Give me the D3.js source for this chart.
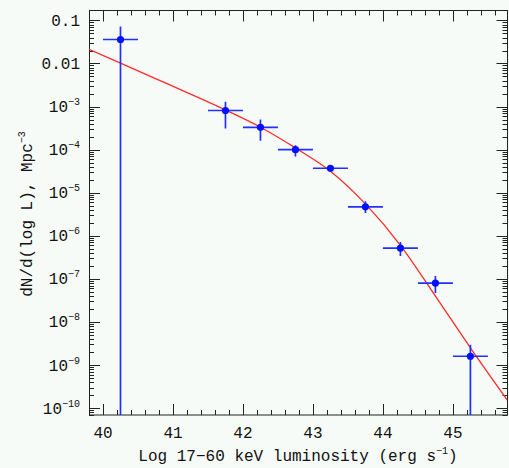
<!DOCTYPE html>
<html>
<head>
<meta charset="utf-8">
<script src="https://cdn.jsdelivr.net/npm/d3@7"></script>
<style>
  html, body { margin: 0; padding: 0; background: #f7fbf7; }
  svg { display: block; }
  text { font-family: "Liberation Mono", "DejaVu Sans Mono", monospace; fill: #111; }
</style>
</head>
<body>
<svg id="chart" width="509" height="468"></svg>
<script>
// ---- data ----
const logL   = [40.25, 41.75, 42.25, 42.75, 43.25, 43.75, 44.25, 44.75, 45.25];
const phi    = [0.036, 8.1e-4, 3.3e-4, 1.0e-4, 3.7e-5, 4.7e-6, 5.2e-7, 8.0e-8, 1.6e-9];
const phiHi  = [0.072, 1.3e-3, 5.0e-4, 1.26e-4, 4.2e-5, 6.3e-6, 7.2e-7, 1.17e-7, 2.95e-9];
const phiLo  = [1e-12, 3.1e-4, 1.6e-4, 6.9e-5, 3.3e-5, 3.4e-6, 3.4e-7, 4.7e-8, 1e-12];
const binHalf = [0.25, 0.25, 0.25, 0.25, 0.25, 0.25, 0.25, 0.25, 0.25];

// model curve (log L, log phi)
const curveLogL   = [39.8, 40.25, 40.75, 41.25, 41.75, 42.25, 42.75, 43.25, 43.75, 44.25, 44.75, 45.25, 45.78];
const curveLogPhi = [-1.67, -1.99, -2.35, -2.71, -3.08, -3.48, -3.96, -4.50, -5.26, -6.22, -7.40, -8.60, -9.82];

const xTicks = [40, 41, 42, 43, 44, 45];
const yTickExps = [-1, -2, -3, -4, -5, -6, -7, -8, -9, -10];

// ---- layout ----
const svg = d3.select("#chart");
const L = 89, R = 507.5, T = 10.5, B = 415;

const x = d3.scaleLinear().domain([39.8, 45.78]).range([L, R]);
const y = d3.scaleLog().domain([Math.pow(10, -10.16), Math.pow(10, -0.77)]).range([B, T]);

svg.append("defs").append("clipPath").attr("id", "clip")
  .append("rect").attr("x", L).attr("y", T).attr("width", R - L).attr("height", B - T);

// ---- ticks (inward, all four sides) ----
const tg = svg.append("g").attr("stroke", "#222").attr("stroke-width", 1);
const xMinor = d3.range(39.8, 45.79, 0.2).map(v => +v.toFixed(1));
xMinor.forEach(v => {
  const isMajor = Math.abs(v - Math.round(v)) < 1e-6;
  const len = isMajor ? 11 : 5;
  const px = Math.round(x(v)) + 0.5;
  tg.append("line").attr("x1", px).attr("x2", px).attr("y1", B).attr("y2", B - len);
  tg.append("line").attr("x1", px).attr("x2", px).attr("y1", T).attr("y2", T + len);
});
for (let e = -11; e <= 0; e++) {
  for (let m = 1; m <= 9; m++) {
    const v = m * Math.pow(10, e);
    const [lo, hi] = y.domain();
    if (v < lo || v > hi) continue;
    const len = m === 1 ? 11 : 5;
    const py = Math.round(y(v)) + 0.5;
    tg.append("line").attr("x1", L).attr("x2", L + len).attr("y1", py).attr("y2", py);
    tg.append("line").attr("x1", R).attr("x2", R - len).attr("y1", py).attr("y2", py);
  }
}

// frame
svg.append("rect").attr("x", L + 0.5).attr("y", T).attr("width", R - L - 0.5).attr("height", B - T)
  .attr("fill", "none").attr("stroke", "#222").attr("stroke-width", 1);

// ---- tick labels ----
const xl = svg.append("g");
xTicks.forEach(v => {
  xl.append("text").attr("x", x(v)).attr("y", 438).attr("text-anchor", "middle")
    .attr("font-size", 16).text(v);
});
const yl = svg.append("g");
yTickExps.forEach(e => {
  const py = y(Math.pow(10, e));
  const t = yl.append("text").attr("x", 80).attr("y", py + 5.5).attr("text-anchor", "end").attr("font-size", 16);
  if (e === -1) t.text("0.1");
  else if (e === -2) t.text("0.01");
  else {
    t.append("tspan").text("10");
    t.append("tspan").attr("font-size", 10).attr("dy", -7).text("\u2212" + (-e));
  }
});

// axis titles
const xt = svg.append("text").attr("x", 298).attr("y", 461).attr("text-anchor", "middle").attr("font-size", 16);
xt.append("tspan").text("Log 17\u221260 keV luminosity (erg s");
xt.append("tspan").attr("font-size", 10).attr("dy", -7).text("\u22121");
xt.append("tspan").attr("dy", 7).text(")");

const yt = svg.append("text").attr("transform", "translate(32,214) rotate(-90)")
  .attr("text-anchor", "middle").attr("font-size", 16);
yt.append("tspan").text("dN/d(log L), Mpc");
yt.append("tspan").attr("font-size", 10).attr("dy", -7).text("\u22123");

// ---- plot content ----
const plot = svg.append("g").attr("clip-path", "url(#clip)");

const line = d3.line()
  .x((d, i) => x(curveLogL[i]))
  .y((d, i) => y(Math.pow(10, curveLogPhi[i])))
  .curve(d3.curveMonotoneX);
plot.append("path").datum(curveLogL).attr("d", line)
  .attr("fill", "none").attr("stroke", "#ff2a2a").attr("stroke-width", 1.3);

const pts = logL.map((v, i) => ({ x: v, y: phi[i], hi: phiHi[i], lo: phiLo[i], h: binHalf[i] }));
const eb = plot.append("g").attr("stroke", "#2030ff").attr("stroke-width", 1.7);
pts.forEach(p => {
  eb.append("line").attr("x1", x(p.x - p.h)).attr("x2", x(p.x + p.h)).attr("y1", y(p.y)).attr("y2", y(p.y));
  eb.append("line").attr("x1", x(p.x)).attr("x2", x(p.x)).attr("y1", y(p.hi)).attr("y2", y(p.lo));
});
plot.append("g").selectAll("circle").data(pts).join("circle")
  .attr("cx", d => x(d.x)).attr("cy", d => y(d.y)).attr("r", 3.6).attr("fill", "#0010ff");
</script>
</body>
</html>
